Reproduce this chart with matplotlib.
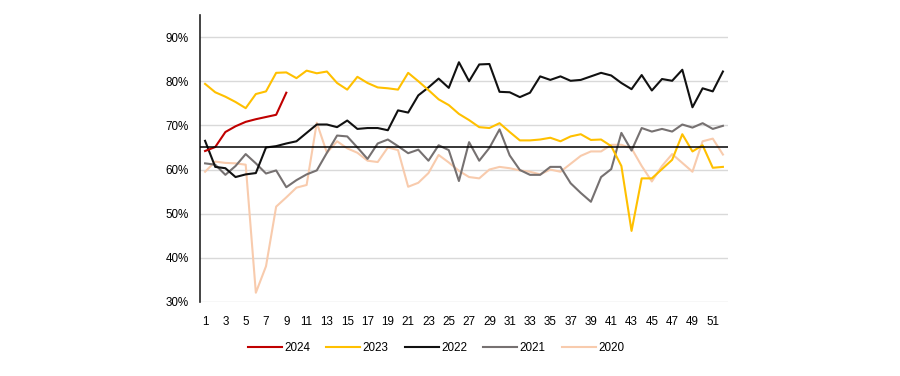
import matplotlib
matplotlib.use("Agg")
import matplotlib.pyplot as plt
import numpy as np

plt.rcParams['font.family'] = ['Liberation Sans', 'DejaVu Sans']

weeks = np.arange(1, 53)

y2024 = [64.2, 65.1, 68.5, 69.8, 70.8, 71.4, 71.9, 72.4, 77.4]

y2023 = [79.4, 77.5, 76.5, 75.3, 73.9, 77.1, 77.7, 81.9, 82.0, 80.7,
         82.4, 81.8, 82.2, 79.6, 78.1, 81.0, 79.6, 78.6, 78.4, 78.1,
         81.9, 80.0, 78.0, 75.9, 74.6, 72.6, 71.2, 69.6, 69.4, 70.5,
         68.5, 66.6, 66.6, 66.8, 67.2, 66.4, 67.5, 68.0, 66.7, 66.8,
         65.3, 60.8, 46.1, 58.0, 58.0, 60.1, 62.2, 68.0, 64.1, 65.5,
         60.4, 60.6]

y2022 = [66.5, 60.6, 60.3, 58.3, 58.9, 59.2, 65.0, 65.3, 65.9, 66.4,
         68.3, 70.2, 70.2, 69.6, 71.1, 69.2, 69.4, 69.4, 68.9, 73.4,
         72.9, 76.8, 78.6, 80.6, 78.5, 84.3, 80.0, 83.8, 83.9, 77.6,
         77.5, 76.4, 77.4, 81.1, 80.3, 81.1, 80.1, 80.3, 81.1, 81.9,
         81.3, 79.6, 78.2, 81.4, 77.9, 80.5, 80.1, 82.6, 74.1, 78.4,
         77.7, 82.2]

y2021 = [61.4, 61.1, 58.8, 60.8, 63.5, 61.4, 59.1, 59.8, 56.0, 57.6,
         58.9, 59.8, 63.8, 67.7, 67.5, 65.0, 62.4, 65.9, 66.8, 65.3,
         63.7, 64.5, 62.0, 65.5, 64.4, 57.4, 66.2, 62.0, 64.9, 69.1,
         63.2, 59.9, 58.8, 58.8, 60.6, 60.6, 56.9, 54.7, 52.7, 58.3,
         60.1, 68.3, 64.3, 69.4, 68.6, 69.2, 68.6, 70.2, 69.5, 70.5,
         69.2, 69.9]

y2020 = [59.5, 61.8, 61.5, 61.4, 61.1, 32.1, 38.1, 51.6, 53.7, 55.9,
         56.5, 70.6, 63.8, 66.4, 64.8, 63.8, 62.0, 61.7, 65.0, 64.4,
         56.1, 57.0, 59.2, 63.3, 61.6, 59.7, 58.3, 58.0, 60.0, 60.6,
         60.3, 59.8, 59.5, 58.9, 60.0, 59.5, 61.3, 63.1, 64.1, 64.1,
         65.6, 65.6, 64.8, 60.8, 57.3, 60.8, 63.5, 61.5, 59.5, 66.4,
         67.0, 63.4]

target = 65

fig = plt.figure(figsize=(9, 3.76), dpi=100)
ax = fig.add_axes([200/900, 1-302/376, 528/900, (302-15)/376])

lw = 1.5
ax.plot(weeks, y2020, color='#F8CBAD', lw=lw, label='2020', zorder=2)
ax.plot(weeks, y2021, color='#767171', lw=lw, label='2021', zorder=3)
ax.plot(weeks, y2022, color='#111111', lw=lw, label='2022', zorder=4)
ax.plot(weeks, y2023, color='#FFC000', lw=lw, label='2023', zorder=5)
ax.plot(weeks[:len(y2024)], y2024, color='#C00000', lw=lw, label='2024', zorder=6)
ax.axhline(target, color='black', lw=1.1, zorder=7)

ax.set_xlim(0.5, 52.5)
ax.set_ylim(30, 95)
ax.set_yticks(np.arange(30, 91, 10))
ax.set_yticklabels([f'{v}%' for v in range(30, 91, 10)])
ax.set_xticks(np.arange(1, 53, 2))
ax.grid(axis='y', color='#D9D9D9', lw=1)
ax.set_axisbelow(True)
for s in ['top', 'right', 'bottom']:
    ax.spines[s].set_visible(False)
ax.spines['left'].set_color('#222222')
ax.spines['left'].set_linewidth(1.2)
ax.tick_params(axis='both', length=0, labelsize=8.4, colors='black')
ax.tick_params(axis='y', pad=8)
ax.tick_params(axis='x', pad=10)

h, l = ax.get_legend_handles_labels()
order = [4, 3, 2, 1, 0]
fig.legend([h[i] for i in order], [l[i] for i in order], loc='center',
           bbox_to_anchor=(436/900, 1-348/376), ncol=5, frameon=False,
           fontsize=8.4, handlelength=2.9, columnspacing=1.4, handletextpad=0.2)

fig.savefig('out.png', dpi=100)
